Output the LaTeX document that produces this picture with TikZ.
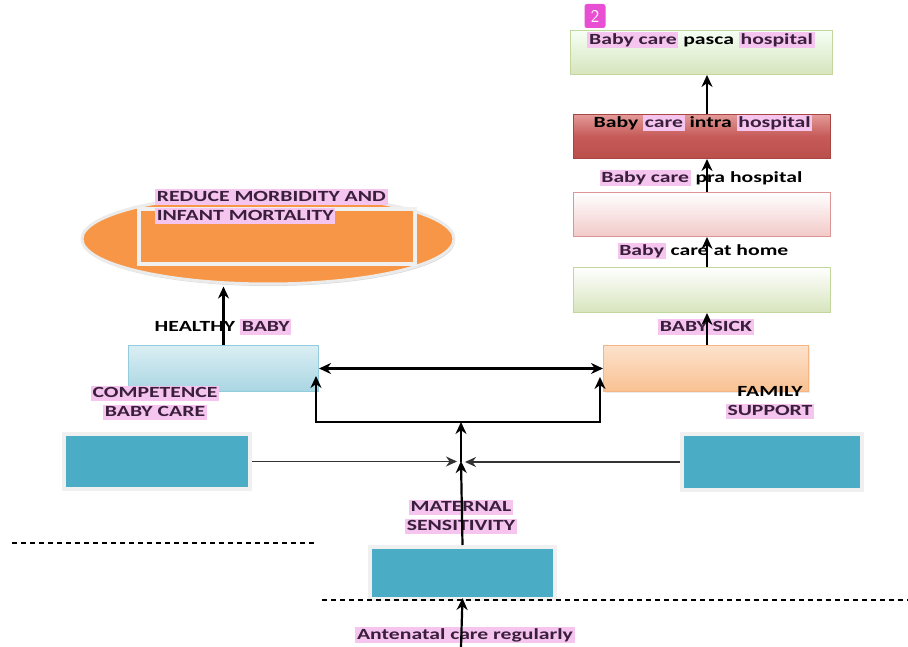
\documentclass[tikz,border=0pt]{standalone}
\usepackage{fontspec}
\setmainfont{Carlito}
\usetikzlibrary{arrows.meta,shapes.geometric,shadows}
\definecolor{hl}{HTML}{F5C4EF}
\definecolor{hltext}{HTML}{3A1F3C}
\definecolor{teal}{HTML}{4BACC6}
\definecolor{orng}{HTML}{F79646}
\definecolor{badge}{HTML}{E84FD2}
\definecolor{redtop}{HTML}{E39A98}
\definecolor{redmid}{HTML}{C55A58}
\definecolor{redbot}{HTML}{BA4F4C}
\definecolor{redbd}{HTML}{A84542}
\definecolor{pinkbd}{HTML}{D99694}
\definecolor{pinkbot}{HTML}{F2C9C8}
\definecolor{grnbd}{HTML}{C3D69B}
\definecolor{grnbot}{HTML}{D7E4BD}
\definecolor{orbot}{HTML}{F9C192}
\definecolor{ortop}{HTML}{FCE2CC}
\definecolor{orbd}{HTML}{F5B584}
\definecolor{bltop}{HTML}{DAEEF3}
\definecolor{blbot}{HTML}{A9D6E3}
\definecolor{blbd}{HTML}{93CDDD}
\newcommand\hlite[1]{{\setlength{\fboxsep}{1.2pt}\colorbox{hl}{\color{hltext}\vphantom{bgy}#1}}}
\newcommand\sxw[1]{\scalebox{1.4}[1]{#1}}
\begin{document}
\begin{tikzpicture}[x=1pt,y=-1pt,
  lbl/.style={inner sep=0pt, font=\fontsize{15.5}{20}\selectfont\bfseries, align=center},
  rbox/.style={draw, line width=1pt, anchor=north west},
  tealbox/.style={fill=teal, draw=black!6, line width=4pt, anchor=north west,
     drop shadow={shadow xshift=2pt, shadow yshift=-2pt, fill=black!35}},
  arr/.style={line width=2.2pt, -{Stealth[length=12pt,width=11pt]}},
  darr/.style={line width=2.2pt, {Stealth[length=12pt,width=11pt]}-{Stealth[length=12pt,width=11pt]}},
  hline/.style={line width=1.4pt, draw=black!80, -{Stealth[length=11pt,width=10pt]}},
  dsh/.style={line width=1.5pt, dash pattern=on 5pt off 4pt}]
\useasboundingbox (0,0) rectangle (908,647);

% right column boxes
\node[rbox, minimum width=262pt, minimum height=44pt, draw=grnbd, top color=white!96!green, bottom color=grnbot] (A) at (570,30) {};
\node[rbox, minimum width=257pt, minimum height=44pt, draw=redbd, top color=redtop, bottom color=redbot, middle color=redmid] (B) at (573,114) {};
\node[rbox, minimum width=257pt, minimum height=44pt, draw=pinkbd, top color=white, bottom color=pinkbot] (C) at (573,192) {};
\node[rbox, minimum width=257pt, minimum height=45pt, draw=grnbd, top color=white, bottom color=grnbot] (D) at (573,267) {};
\node[rbox, minimum width=205pt, minimum height=46pt, draw=orbd, top color=ortop, bottom color=orbot,
   drop shadow={shadow xshift=1pt, shadow yshift=-1pt, fill=black!15}] (E) at (603,345) {};
\node[rbox, minimum width=190pt, minimum height=46pt, draw=blbd, top color=bltop, bottom color=blbot] (F) at (128,345) {};

% ellipse
\node[ellipse, minimum width=372pt, minimum height=90pt, fill=orng, draw=black!8, line width=3pt,
   drop shadow={shadow xshift=1pt, shadow yshift=-2pt, fill=black!30}] (ell) at (268,239) {};
\node[rbox, minimum width=276pt, minimum height=55pt, fill=orng, draw=black!6, line width=4pt,
   drop shadow={shadow xshift=1pt, shadow yshift=-2pt, fill=black!25}] (inr) at (137,207) {};

% teal boxes
\node[tealbox, minimum width=186pt, minimum height=55pt] (G) at (62,432) {};
\node[tealbox, minimum width=180pt, minimum height=56pt] (H) at (680,432) {};
\node[tealbox, minimum width=185pt, minimum height=52pt] (I) at (368,545) {};

% dashed lines
\coordinate (dl1) at (12,543);
\coordinate (dl2) at (316,543);
\coordinate (dr1) at (322,600);
\coordinate (dr2) at (908,600);
\draw[dsh] (dl1) -- (dl2);
\draw[dsh] (dr1) -- (dr2);

% badge
\node[fill=badge, rounded corners=2.5pt, minimum width=21pt, minimum height=24pt, inner sep=0pt,
  text=white, font=\fontsize{18}{18}\selectfont\sffamily] (bdg) at (595,16) {2};

% labels
\node[lbl] (tA) at (701,40) {\sxw{\hlite{Baby care} pasca \hlite{hospital}}};
\node[lbl] (tB) at (703,123) {\sxw{Baby \hlite{care} intra \hlite{hospital}}};
\node[lbl] (tC) at (701,178) {\sxw{\hlite{Baby care} pra hospital}};
\node[lbl] (tD) at (703,251) {\sxw{\hlite{Baby} care at home}};
\node[lbl] (tE) at (706,327) {\sxw{\hlite{BABY SICK}}};
\node[lbl] (tF) at (223,327) {\sxw{HEALTHY \hlite{BABY}}};
\node[lbl, anchor=north west, align=left] (tR) at (155,189) {\sxw{\hlite{REDUCE MORBIDITY AND}}\\[-1pt]\sxw{\hlite{INFANT MORTALITY}}};
\node[lbl] (tG) at (155,403) {\sxw{\hlite{COMPETENCE}}\\[-1pt]\sxw{\hlite{BABY CARE}}};
\node[lbl] (tH) at (770,403) {\sxw{FAMILY}\\[-1pt]\sxw{\hlite{SUPPORT}}};
\node[lbl] (tI) at (461,517) {\sxw{\hlite{MATERNAL}}\\[-1pt]\sxw{\hlite{SENSITIVITY}}};
\node[lbl] (tJ) at (465,635) {\sxw{\hlite{Antenatal care regularly}}};

% connectors
\coordinate (colx) at (707,0);
\draw[arr] (B.north -| colx) -- (A.south -| colx);
\draw[arr] (C.north -| colx) -- (B.south -| colx);
\draw[arr] (D.north -| colx) -- (C.south -| colx);
\draw[arr] (E.north -| colx) -- (D.south -| colx);
\draw[arr] (F.north) -- ([yshift=-1pt]ell.south -| F.north);
\draw[darr] (F.east) -- (E.west);

\coordinate (J) at (461,422);
\coordinate (K) at (461,462);
\coordinate (Fa) at (316,376);
\coordinate (Ea) at (600,377);
\coordinate (bot) at (461,647);
\draw[arr] (J) -| (Fa);
\draw[arr] (J) -| (Ea);
\draw[arr] (K) -- (J);
\draw[arr] (I.north) -- ([yshift=1pt]K);
\draw[hline, shorten >=4pt] (G.east) -- (G.east -| K);
\draw[hline, shorten >=4pt] (H.west) -- (H.west -| K);
\draw[arr] (bot) -- ([yshift=3pt]I.south);
\end{tikzpicture}
\end{document}
